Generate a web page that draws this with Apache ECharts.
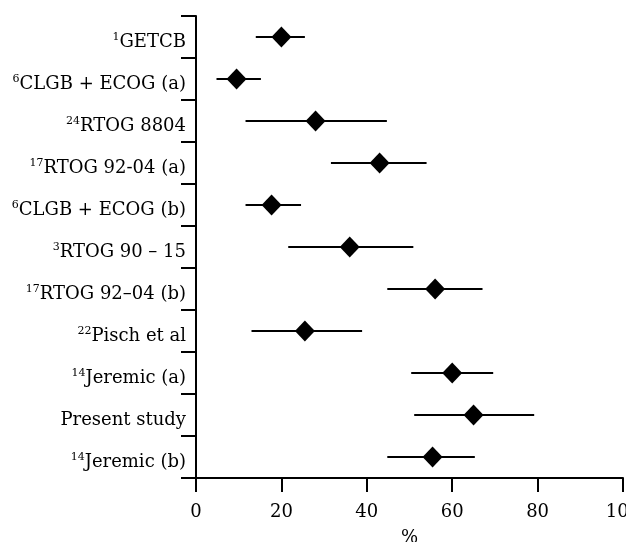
<!DOCTYPE html>
<html>
<head>
<meta charset="utf-8">
<script src="https://cdn.jsdelivr.net/npm/echarts@6/dist/echarts.min.js"></script>
<style>
  html, body { margin: 0; padding: 0; background: #fff; }
  #chart { width: 626px; height: 542px; }
</style>
</head>
<body>
<div id="chart"></div>
<script>
// study labels, top to bottom, with the reference number shown as superscript
var studies = ['GETCB', 'CLGB + ECOG (a)', 'RTOG 8804', 'RTOG 92-04 (a)', 'CLGB + ECOG (b)',
  'RTOG 90 \u2013 15', 'RTOG 92\u201304 (b)', 'Pisch et al', 'Jeremic (a)', 'Present study', 'Jeremic (b)'];
var refs = ['1', '6', '24', '17', '6', '3', '17', '22', '14', '', '14'];

// point estimate and interval ends (%)
var estimate = [20, 9.5, 28, 43, 17.7, 36, 56, 25.5, 60, 65, 55.4];
var lower = [14, 4.8, 11.6, 31.6, 11.6, 21.6, 44.8, 13, 50.4, 51.1, 44.8];
var upper = [25.5, 15.2, 44.7, 54, 24.6, 50.9, 67.1, 38.9, 69.6, 79.2, 65.3];

var xTicks = [0, 20, 40, 60, 80, 100];

var chart = echarts.init(document.getElementById('chart'));

var font = 'DejaVu Serif';

var intervalData = studies.map(function (s, i) { return [lower[i], upper[i], i]; });
var pointData = studies.map(function (s, i) { return [estimate[i], i]; });

chart.setOption({
    animation: false,
    backgroundColor: '#fff',
    grid: {
        left: 196,
        right: 3,
        top: 16,
        bottom: 64,
        outerBoundsMode: 'none'
    },
    xAxis: {
        type: 'value',
        min: xTicks[0],
        max: xTicks[xTicks.length - 1],
        interval: 20,
        name: '%',
        nameLocation: 'middle',
        nameGap: 51,
        nameTextStyle: { color: '#000', fontFamily: font, fontSize: 18 },
        axisLine: { show: true, lineStyle: { color: '#000', width: 2 } },
        axisTick: { show: true, length: 14, lineStyle: { color: '#000', width: 2 } },
        axisLabel: { color: '#000', fontFamily: font, fontSize: 18, margin: 25, hideOverlap: false },
        splitLine: { show: false }
    },
    yAxis: {
        type: 'category',
        inverse: true,
        data: studies,
        axisLine: { show: true, lineStyle: { color: '#000', width: 2 } },
        axisTick: { show: true, length: 15, lineStyle: { color: '#000', width: 2 } },
        axisLabel: {
            margin: 10,
            padding: [10, 0, 0, 0],
            formatter: function (value, idx) {
                return (refs[idx] ? '{sup|' + refs[idx] + '}' : '') + '{main|' + value + '}';
            },
            rich: {
                sup: { color: '#000', fontFamily: font, fontSize: 11, verticalAlign: 'top', lineHeight: 20 },
                main: { color: '#000', fontFamily: font, fontSize: 18, lineHeight: 20 }
            }
        },
        splitLine: { show: false }
    },
    series: [
        {
            // confidence interval lines
            type: 'custom',
            data: intervalData,
            encode: { x: [0, 1], y: 2 },
            renderItem: function (params, api) {
                var a = api.coord([api.value(0), api.value(2)]);
                var b = api.coord([api.value(1), api.value(2)]);
                return {
                    type: 'line',
                    shape: { x1: a[0], y1: a[1], x2: b[0], y2: b[1] },
                    style: { stroke: '#000', lineWidth: 2.2 }
                };
            },
            z: 2
        },
        {
            type: 'scatter',
            data: pointData,
            symbol: 'diamond',
            symbolSize: [20, 21],
            itemStyle: { color: '#000', opacity: 1 },
            z: 3
        }
    ]
});
</script>
</body>
</html>
